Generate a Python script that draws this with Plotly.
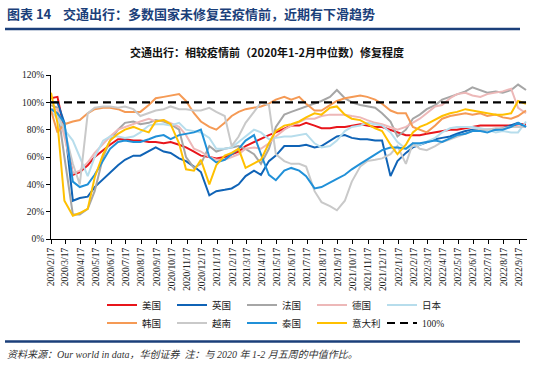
import plotly.graph_objects as go
import pandas as pd

# ---- x positions: semi-monthly observation dates ----
dates = ['2020-02-17'] + [d.strftime('%Y-%m-%d') for d in
                          pd.date_range('2020-03-01', '2022-10-01', freq='SMS')]

# ---- series values (% of pre-pandemic median) ----
us = [103, 104, 80, 47, 49, 54, 60, 65, 69, 73, 73, 72, 72, 71, 71, 70, 71, 69, 67, 64,
      61, 60, 59, 60, 62, 64, 68, 71, 73, 76, 78, 81, 83,
      83, 85, 83, 81, 81, 82, 82, 83, 84, 83, 82, 82, 80, 78, 76, 76, 76, 77, 78, 79,
      80, 80, 81, 82, 83, 83, 83, 83, 83, 84, 84]
uk = [100, 100, 85, 28, 30, 31, 38, 44, 49, 54, 58, 61, 61, 64, 67, 64, 63, 59, 57, 53,
      49, 32, 35, 36, 37, 40, 46, 50, 47, 57, 61, 68, 68,
      68, 69, 67, 68, 72, 75, 76, 74, 73, 73, 72, 72, 46, 57, 63, 67, 69, 71, 73, 74,
      75, 77, 79, 80, 80, 80, 80, 81, 83, 85, 82]
france = [98, 96, 60, 18, 18, 22, 35, 60, 72, 80, 85, 86, 84, 85, 87, 86, 84, 80, 60, 52,
          55, 68, 64, 66, 67, 68, 66, 62, 55, 66, 82, 91, 93,
          95, 97, 99, 101, 104, 109, 103, 100, 98, 97, 96, 92, 86, 75, 80, 88, 91, 95, 98, 102,
          104, 106, 108, 111, 109, 107, 108, 107, 109, 113, 109]
germany = [95, 95, 75, 48, 50, 56, 63, 70, 75, 80, 82, 84, 86, 88, 86, 87, 85, 82, 76, 66,
           64, 60, 58, 58, 60, 62, 66, 67, 66, 70, 75, 80, 83,
           86, 88, 88, 90, 91, 91, 91, 90, 89, 87, 85, 84, 82, 80, 82, 85, 88, 92, 97, 98,
           103, 106, 107, 105, 104, 106, 107, 108, 110, 96, 92]
japan = [94, 88, 80, 72, 60, 46, 60, 72, 75, 75, 74, 75, 78, 83, 84, 84, 83, 85, 80, 79,
         78, 74, 66, 66, 67, 71, 75, 80, 78, 73, 74, 75, 75,
         76, 77, 70, 67, 68, 72, 79, 82, 83, 85, 84, 83, 78, 71, 66, 68, 69, 71, 74, 78,
         81, 82, 82, 82, 81, 80, 78, 79, 78, 78, 86]
korea = [94, 78, 84, 86, 87, 92, 95, 96, 96, 95, 93, 93, 93, 98, 103, 104, 105, 106, 101, 92,
         86, 82, 80, 85, 90, 93, 95, 96, 97, 99, 102, 104, 102,
         104, 99, 94, 94, 98, 101, 103, 104, 105, 104, 102, 99, 94, 92, 92, 82, 80, 78, 83, 88,
         90, 91, 92, 91, 92, 90, 91, 89, 88, 90, 94]
vietnam = [95, 92, 80, 55, 40, 92, 96, 97, 97, 96, 97, 95, 90, 92, 94, 95, 97, 95, 95, 94,
           94, 96, 93, 90, 68, 75, 85, 93, 100, 98, 62, 57, 55,
           55, 53, 35, 27, 24, 21, 28, 42, 53, 57, 58, 59, 62, 68, 55, 70, 66, 65, 68, 71,
           73, 75, 77, 79, 80, 80, 81, 81, 82, 82, 82]
thailand = [95, 92, 85, 42, 38, 40, 47, 57, 66, 71, 72, 71, 71, 73, 75, 76, 73, 76, 77, 78,
            80, 60, 56, 58, 62, 66, 72, 76, 62, 47, 43, 50, 52,
            50, 46, 37, 38, 41, 44, 47, 51, 55, 58, 62, 65, 67, 67, 66, 70, 70, 71, 72, 71,
            74, 76, 77, 79, 79, 78, 80, 80, 82, 85, 82]
italy = [107, 85, 28, 17, 19, 22, 45, 62, 72, 77, 80, 82, 80, 78, 86, 87, 84, 70, 51, 50,
         58, 40, 54, 61, 63, 66, 52, 55, 58, 70, 79, 83, 84,
         86, 89, 92, 91, 96, 97, 91, 88, 87, 84, 81, 79, 69, 62, 69, 78, 82, 84, 87, 90,
         92, 93, 95, 94, 93, 92, 91, 91, 92, 101, 99]
ref_line = [100, 100]

names = ['美国', '英国', '法国', '德国', '日本', '韩国', '越南', '泰国', '意大利']
values = [us, uk, france, germany, japan, korea, vietnam, thailand, italy]
colors = ['#E8151B', '#0F63B6', '#A6A6A6', '#EDB8B8', '#B7DDEC',
          '#F59A55', '#C9C9C9', '#2090D8', '#FFC000']
legends = ['legend'] * 5 + ['legend2'] * 4

fig = go.Figure()
for nm, v, c, lg in zip(names, values, colors, legends):
    fig.add_trace(go.Scatter(x=dates, y=v, mode='lines', name=nm,
                             line=dict(color=c, width=2), legend=lg))
fig.add_trace(go.Scatter(x=[dates[0], dates[-1]], y=ref_line, mode='lines', name='100%',
                         line=dict(color='black', width=2.2, dash='8px,5px'),
                         legend='legend2'))

# paper-coordinate helpers (plot area: x 51..527 px, y 75..239 px)
def px(x):
    return (x - 51) / 476.0

def py(y):
    return (239 - y) / 164.0

NAVY = '#1B3F7A'
FONT = 'Liberation Serif, Noto Sans CJK SC, serif'
CJK = 'Noto Sans CJK SC, Liberation Serif, sans-serif'

leg_common = dict(orientation='h', x=px(102), xanchor='left', yanchor='middle',
                  entrywidth=25, entrywidthmode='pixels',
                  font=dict(family=FONT, size=9.5, color='#222'),
                  bgcolor='rgba(0,0,0,0)', borderwidth=0)

fig.update_layout(
    width=542, height=367,
    margin=dict(l=51, r=15, t=75, b=128, autoexpand=False),
    paper_bgcolor='white', plot_bgcolor='white',
    font=dict(family=FONT, size=9.5, color='#222'),
    xaxis=dict(type='date', range=['2020-02-17', '2022-10-03'],
               tick0='2020-02-17', dtick='M1', tickformat='%Y/%-m/%-d',
               tickangle=-90, ticks='outside', ticklen=4, tickcolor='black',
               showline=True, linecolor='black', linewidth=1,
               showgrid=False, zeroline=False,
               tickfont=dict(family=FONT, size=9.5, color='#222')),
    yaxis=dict(range=[0, 120], dtick=20, ticksuffix='%',
               ticks='outside', ticklen=4, tickcolor='black',
               showline=True, linecolor='black', linewidth=1,
               showgrid=False, zeroline=False,
               tickfont=dict(family=FONT, size=9.5, color='#222')),
    legend=dict(y=py(305), **leg_common),
    legend2=dict(y=py(323), **leg_common),
    showlegend=True,
)

shapes = [
    dict(type='line', xref='paper', yref='paper', x0=px(5), x1=px(520),
         y0=py(29), y1=py(29), line=dict(color=NAVY, width=2.5)),
    dict(type='line', xref='paper', yref='paper', x0=px(5), x1=px(520),
         y0=py(341.5), y1=py(341.5), line=dict(color=NAVY, width=2.5)),
]
fig.update_layout(shapes=shapes)

annotations = [
    dict(text='<b>图表 14    交通出行：多数国家未修复至疫情前，近期有下滑趋势</b>',
         xref='paper', yref='paper', x=px(5), y=py(13), xanchor='left', yanchor='middle',
         showarrow=False, font=dict(family=CJK, size=13, color=NAVY)),
    dict(text='<b>交通出行：相较疫情前（2020年1-2月中位数）修复程度</b>',
         xref='paper', yref='paper', x=px(267), y=py(52), xanchor='center', yanchor='middle',
         showarrow=False, font=dict(family=CJK, size=11, color='#111')),
    dict(text='<i>资料来源：Our world in data，华创证券  注：与 2020 年 1-2 月五周的中值作比。</i>',
         xref='paper', yref='paper', x=px(5), y=py(354), xanchor='left', yanchor='middle',
         showarrow=False, font=dict(family=FONT, size=10, color='#333')),
]
fig.update_layout(annotations=annotations)

fig.write_html('out.html',
               config={'displayModeBar': False},
               post_script="document.body.style.margin='0';document.body.style.padding='0';")
